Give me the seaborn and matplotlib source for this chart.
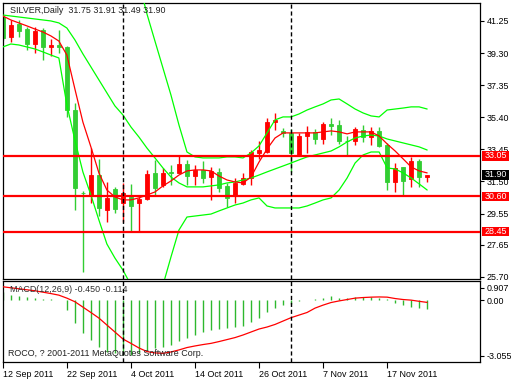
import numpy as np
import matplotlib
matplotlib.use("Agg")
import matplotlib.pyplot as plt
import matplotlib.transforms as mtransforms
from matplotlib.patches import Rectangle
import seaborn as sns

# Velas diarias de SILVER (12 Sep - 24 Nov 2011)
open_ = [41.51, 40.28, 41.05, 40.75, 39.83, 40.70, 39.65, 39.81, 39.69, 35.84,
         30.82, 30.64, 31.89, 29.77, 31.02, 30.17, 30.58, 30.17, 30.44, 31.99,
         31.29, 32.06, 32.03, 32.56, 31.83, 32.20, 31.75, 32.09, 31.23, 30.62,
         31.35, 31.69, 33.21, 33.31, 35.13, 34.57, 34.43, 33.11, 34.26, 34.52,
         34.08, 35.00, 34.93, 33.98, 33.98, 34.63, 34.22, 34.57, 33.72, 31.49,
         32.36, 31.63, 32.74, 31.75]
high = [41.60, 41.31, 41.31, 40.90, 40.90, 40.82, 40.16, 40.70, 39.73, 36.27,
        30.92, 33.53, 32.87, 31.49, 31.15, 31.43, 31.35, 30.58, 32.20, 32.80,
        32.30, 32.50, 33.05, 32.80, 32.50, 32.74, 32.36, 32.30, 31.39, 31.69,
        31.99, 33.41, 33.96, 35.34, 35.68, 34.73, 34.67, 34.43, 34.87, 34.67,
        35.13, 35.34, 35.24, 34.28, 34.83, 34.93, 34.79, 34.79, 33.82, 32.60,
        32.40, 33.00, 32.87, 31.91]
low = [40.10, 39.97, 40.30, 39.49, 39.32, 38.90, 39.12, 39.30, 35.43, 29.77,
       26.02, 30.19, 29.40, 29.06, 29.60, 29.06, 28.45, 28.45, 30.38, 30.62,
       31.17, 31.29, 32.02, 31.29, 31.29, 31.43, 30.38, 30.88, 29.93, 30.21,
       31.30, 31.29, 32.87, 33.20, 34.63, 34.20, 32.09, 33.05, 33.25, 33.78,
       33.78, 34.32, 33.78, 33.07, 33.72, 33.92, 33.72, 33.58, 30.98, 30.88,
       30.62, 31.15, 31.19, 31.49]
close = [40.24, 41.01, 40.66, 39.83, 40.64, 39.65, 39.81, 39.65, 35.84, 31.09,
         30.78, 31.89, 29.87, 30.48, 29.83, 30.80, 30.03, 30.44, 31.95, 31.12,
         32.03, 32.03, 32.56, 31.83, 32.20, 31.71, 32.12, 31.12, 30.52, 31.43,
         31.69, 33.31, 33.41, 35.13, 35.23, 34.43, 33.21, 34.28, 34.52, 34.08,
         34.99, 34.89, 33.98, 33.96, 34.67, 34.22, 34.57, 33.67, 31.49, 32.30,
         31.55, 32.74, 31.75, 31.90]

# Media movil (roja) y bandas de Bollinger (verdes)
ma_red = [41.55, 41.31, 41.13, 40.95, 40.76, 40.58, 40.34, 40.03, 39.18, 37.12,
          35.11, 33.60, 32.02, 30.98, 30.56, 30.38, 30.38, 30.50, 30.68, 30.86,
          31.23, 31.53, 31.89, 32.14, 32.20, 32.20, 32.14, 31.83, 31.59, 31.47,
          31.41, 31.77, 32.68, 33.47, 34.14, 34.45, 34.45, 34.45, 34.45, 34.45,
          34.51, 34.57, 34.51, 34.39, 34.51, 34.51, 34.51, 34.26, 33.78, 33.35,
          32.87, 32.38, 32.14, 32.02]
bb_upper = [43.5, 43.3, 43.2, 43.2, 43.2, 43.3, 43.3, 43.3, 45.5, 46.2,
            46.4, 46.3, 46.2, 46.0, 45.3, 45.0, 44.4, 43.6, 41.68, 40.03,
            38.39, 36.75, 34.93, 33.29, 32.99, 32.93, 32.93, 32.93, 32.99, 32.99,
            32.93, 33.23, 33.66, 34.45, 35.24, 35.42, 35.42, 35.60, 35.84, 36.03,
            36.21, 36.45, 36.51, 36.21, 35.90, 35.66, 35.48, 35.42, 35.84, 35.90,
            35.96, 36.03, 36.03, 35.90]
bb_mid = [41.61, 41.55, 41.49, 41.43, 41.37, 41.31, 41.25, 41.13, 40.82, 40.10,
          39.25, 38.46, 37.67, 36.88, 36.09, 35.54, 34.81, 34.20, 33.53, 32.93,
          32.32, 31.77, 31.41, 31.17, 31.17, 31.17, 31.23, 31.29, 31.41, 31.47,
          31.59, 31.71, 31.89, 32.08, 32.26, 32.44, 32.62, 32.81, 32.99, 33.11,
          33.23, 33.35, 33.60, 33.90, 34.14, 34.26, 34.32, 34.26, 34.08, 33.96,
          33.84, 33.72, 33.60, 33.41]
bb_lower = [39.67, 39.85, 39.79, 39.67, 39.55, 39.37, 39.18, 39.00, 36.15, 34.02,
            32.08, 30.68, 29.16, 27.70, 26.85, 26.12, 25.21, 24.80, 24.60, 24.90,
            25.20, 26.91, 28.55, 29.34, 29.40, 29.46, 29.52, 29.71, 29.89, 30.07,
            30.19, 30.38, 30.50, 30.01, 29.89, 29.89, 29.89, 29.89, 30.01, 30.19,
            30.38, 30.50, 30.98, 31.71, 32.62, 33.11, 33.29, 33.29, 32.32, 32.26,
            32.02, 31.71, 31.35, 30.98]

# MACD(12,26,9): histograma (linea principal) y senal
macd_main = [0.40, 0.28, 0.20, 0.15, 0.10, 0.06, 0.04, 0.02, -0.50, -1.17,
             -1.67, -2.00, -2.33, -2.58, -2.67, -2.75, -2.75, -2.67, -2.50, -2.42,
             -2.33, -2.25, -2.05, -1.88, -1.75, -1.62, -1.50, -1.45, -1.38, -1.33,
             -1.30, -1.08, -0.92, -0.60, -0.42, -0.25, -0.20, -0.05, 0.02, 0.05,
             0.10, 0.20, 0.12, 0.12, 0.15, 0.15, 0.15, 0.12, 0.05, -0.15,
             -0.25, -0.33, -0.40, -0.45]
macd_signal = [0.67, 0.62, 0.57, 0.52, 0.47, 0.40, 0.33, 0.25, 0.10, -0.08,
               -0.35, -0.62, -0.90, -1.25, -1.60, -1.95, -2.17, -2.40, -2.58, -2.65,
               -2.67, -2.60, -2.50, -2.38, -2.30, -2.23, -2.17, -2.08, -1.98, -1.88,
               -1.75, -1.60, -1.45, -1.35, -1.22, -1.05, -0.88, -0.75, -0.62, -0.40,
               -0.25, -0.12, -0.04, 0.03, 0.10, 0.13, 0.15, 0.16, 0.15, 0.08,
               0.03, 0.00, -0.06, -0.114]

# Niveles horizontales, separadores de mes y etiquetas de fecha
levels = [33.05, 30.60, 28.45]
last_price = 31.90
month_sep = [15, 36]
date_pos = [0, 8, 16, 24, 32, 40, 48]
date_labels = ["12 Sep 2011", "22 Sep 2011", "4 Oct 2011", "14 Oct 2011",
               "26 Oct 2011", "7 Nov 2011", "17 Nov 2011"]
price_ticks = [41.25, 39.30, 37.35, 35.40, 33.45, 31.50, 29.55, 27.65, 25.70]
macd_labels = ["0.907", "0.00", "-3.055"]

sns.set_style("white")
plt.rcParams['font.family'] = ['Liberation Sans', 'DejaVu Sans']
plt.rcParams['lines.scale_dashes'] = False
FS = 6.4
GREEN = '#32CD32'
BAND = '#00FF00'

idx = np.arange(len(close))
o = np.array(open_); c = np.array(close)

fig = plt.figure(figsize=(5.2, 3.8), dpi=100)
ax = fig.add_axes([2.5/520, 101/380, 477.5/520, 276.5/380])
ax2 = fig.add_axes([2.5/520, 18.5/380, 477.5/520, 80.5/380])

# velas: rojo = alcista, verde = bajista
colors = np.where(c >= o, 'red', GREEN)
ax.vlines(idx, low, high, colors=colors, lw=1, zorder=2)
ax.bar(idx, np.maximum(np.abs(c - o), 0.001), bottom=np.minimum(o, c), width=0.55,
       color=colors, edgecolor=colors, linewidth=0.6, zorder=2)

for serie in [bb_upper, bb_mid, bb_lower]:
    sns.lineplot(x=idx, y=serie, ax=ax, color=BAND, lw=0.9, zorder=3)
sns.lineplot(x=idx, y=ma_red, ax=ax, color='red', lw=0.9, zorder=3)

for v in levels:
    ax.axhline(v, color='red', lw=1.6, zorder=4)

for s in month_sep:
    ax.axvline(s, color='black', lw=1, ls=(0, (3, 2)), zorder=5)
    ax2.axvline(s, color='black', lw=1, ls=(0, (3, 2)), zorder=5)

ax.set_xlim(-0.04, 59.6)
ax.set_ylim(25.575, 42.37)
ax.yaxis.tick_right()
ax.set_yticks(price_ticks)
ax.set_yticklabels([f"{t:.2f}" for t in price_ticks])
ax.set_xticks([])
ax.tick_params(axis='y', right=True, length=3, width=0.8, pad=2, labelsize=FS,
               colors='black')

# cajas de precio a la derecha
tr = mtransforms.blended_transform_factory(ax.transAxes, ax.transData)
box_h = 9.5 / 16.46
for v, fc in [(33.05, 'red'), (30.60, 'red'), (28.45, 'red'), (last_price, 'black')]:
    ax.add_patch(Rectangle((1.0036, v - box_h/2), 0.058, box_h, transform=tr,
                           facecolor=fc, edgecolor='none', clip_on=False, zorder=10))
    ax.text(1.0036 + 0.029, v, f"{v:.2f}", transform=tr, ha='center', va='center',
            color='white', fontsize=FS, clip_on=False, zorder=11)

ax.text(7.3/477.5, 1 - 8.2/276.5, "SILVER,Daily  31.75 31.91 31.49 31.90",
        transform=ax.transAxes, ha='left', va='center', fontsize=FS, color='#202020')

# panel MACD
ax2.vlines(idx, 0, macd_main, colors='#2EB82E', lw=1, zorder=2)
sns.lineplot(x=idx, y=macd_signal, ax=ax2, color='red', lw=0.9, zorder=3)
ax2.set_xlim(-0.04, 59.6)
ax2.set_ylim(-3.08, 0.96)
# etiquetas del MACD: la de arriba y la de abajo quedan dentro del panel
macd_lab_y = [0.61, 0.0, -2.80]
ax2.yaxis.tick_right()
ax2.set_yticks(macd_lab_y)
ax2.set_yticklabels(macd_labels)
ax2.tick_params(axis='y', right=True, length=3, width=0.8, pad=2, labelsize=FS,
                colors='black')
ax2.set_xticks(date_pos)
ax2.set_xticklabels(date_labels)
for lbl in ax2.get_xticklabels():
    lbl.set_ha('left')
ax2.tick_params(axis='x', bottom=True, length=4, width=0.8, pad=2, labelsize=FS,
                colors='black')
ax2.text(7.3/477.5, 1 - 9/80.5, "MACD(12,26,9) -0.450 -0.114", transform=ax2.transAxes,
         ha='left', va='center', fontsize=FS, color='#303030')
ax2.text(6/477.5, 1 - 73/80.5, "ROCO, ? 2001-2011 MetaQuotes Software Corp.",
         transform=ax2.transAxes, ha='left', va='center', fontsize=FS, color='#202020')

for a in (ax, ax2):
    a.set_xlabel(""); a.set_ylabel("")
    for sp in a.spines.values():
        sp.set_color('black')
        sp.set_linewidth(0.9)

fig.savefig("out.png", dpi=100, facecolor='white')
